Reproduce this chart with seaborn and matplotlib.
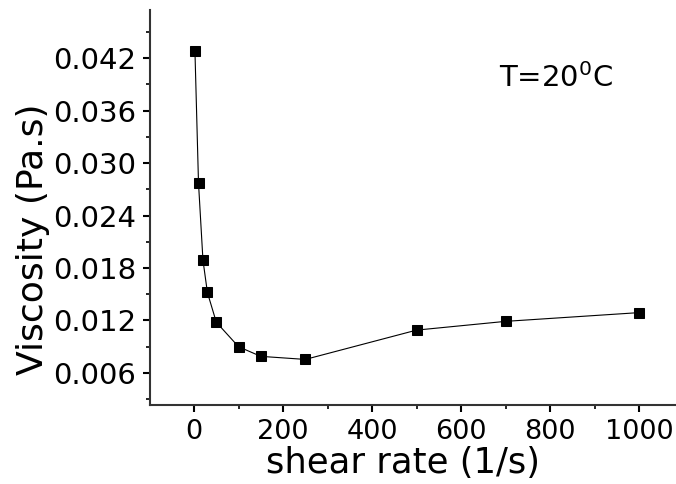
import matplotlib
matplotlib.use("Agg")
import matplotlib.pyplot as plt
import seaborn as sns
import pandas as pd
from matplotlib.ticker import MultipleLocator, FormatStrFormatter

shear_rate = [2, 10, 20, 30, 50, 100, 150, 250, 500, 700, 1000]
viscosity = [0.0428, 0.0277, 0.0189, 0.0152, 0.0118, 0.0090, 0.0079, 0.00755, 0.0109, 0.0119, 0.0129]

sns.set_style("ticks")
plt.rcParams['font.family'] = ['DejaVu Sans']
plt.rcParams['mathtext.fontset'] = 'custom'
plt.rcParams['mathtext.rm'] = 'DejaVu Sans'
plt.rcParams['mathtext.default'] = 'regular'
for k in ['text.color', 'axes.labelcolor', 'xtick.color', 'ytick.color']:
    plt.rcParams[k] = 'black'

df = pd.DataFrame({"shear": shear_rate, "visc": viscosity})

fig = plt.figure(figsize=(6.76, 4.84), dpi=100)
ax = fig.add_axes([150/676, 79/484, 526/676, 395/484])

sns.lineplot(data=df, x="shear", y="visc", ax=ax, color="black", linewidth=0.8,
             marker="s", markersize=7, markeredgecolor="black", markerfacecolor="black")

ax.set_xlim(-99, 1083)
ax.set_ylim(0.00234, 0.04749)

ax.xaxis.set_major_locator(MultipleLocator(200))
ax.xaxis.set_minor_locator(MultipleLocator(100))
ax.yaxis.set_major_locator(MultipleLocator(0.006))
ax.yaxis.set_minor_locator(MultipleLocator(0.003))
ax.yaxis.set_major_formatter(FormatStrFormatter('%.3f'))

for side in ["top", "right"]:
    ax.spines[side].set_visible(False)
for side in ["left", "bottom"]:
    ax.spines[side].set_linewidth(1.5)
    ax.spines[side].set_color("#333333")

ax.tick_params(axis="both", which="major", length=5, width=1.5, pad=5, color="black")
ax.tick_params(axis="y", which="major", labelsize=21)
ax.tick_params(axis="x", which="major", labelsize=19.5)
ax.tick_params(axis="both", which="minor", length=3, width=1.2, color="black")

ax.set_xlabel("shear rate (1/s)", fontsize=25.5)
ax.set_ylabel("Viscosity (Pa.s)", fontsize=26)
ax.xaxis.set_label_coords(0.481, -0.104)
ax.yaxis.set_label_coords(-0.19, 0.42)

ax.text(0.6635, 0.805, r"T=20$^0$C", transform=ax.transAxes, fontsize=21,
        ha="left", va="baseline")

fig.savefig("out.png", dpi=100)
